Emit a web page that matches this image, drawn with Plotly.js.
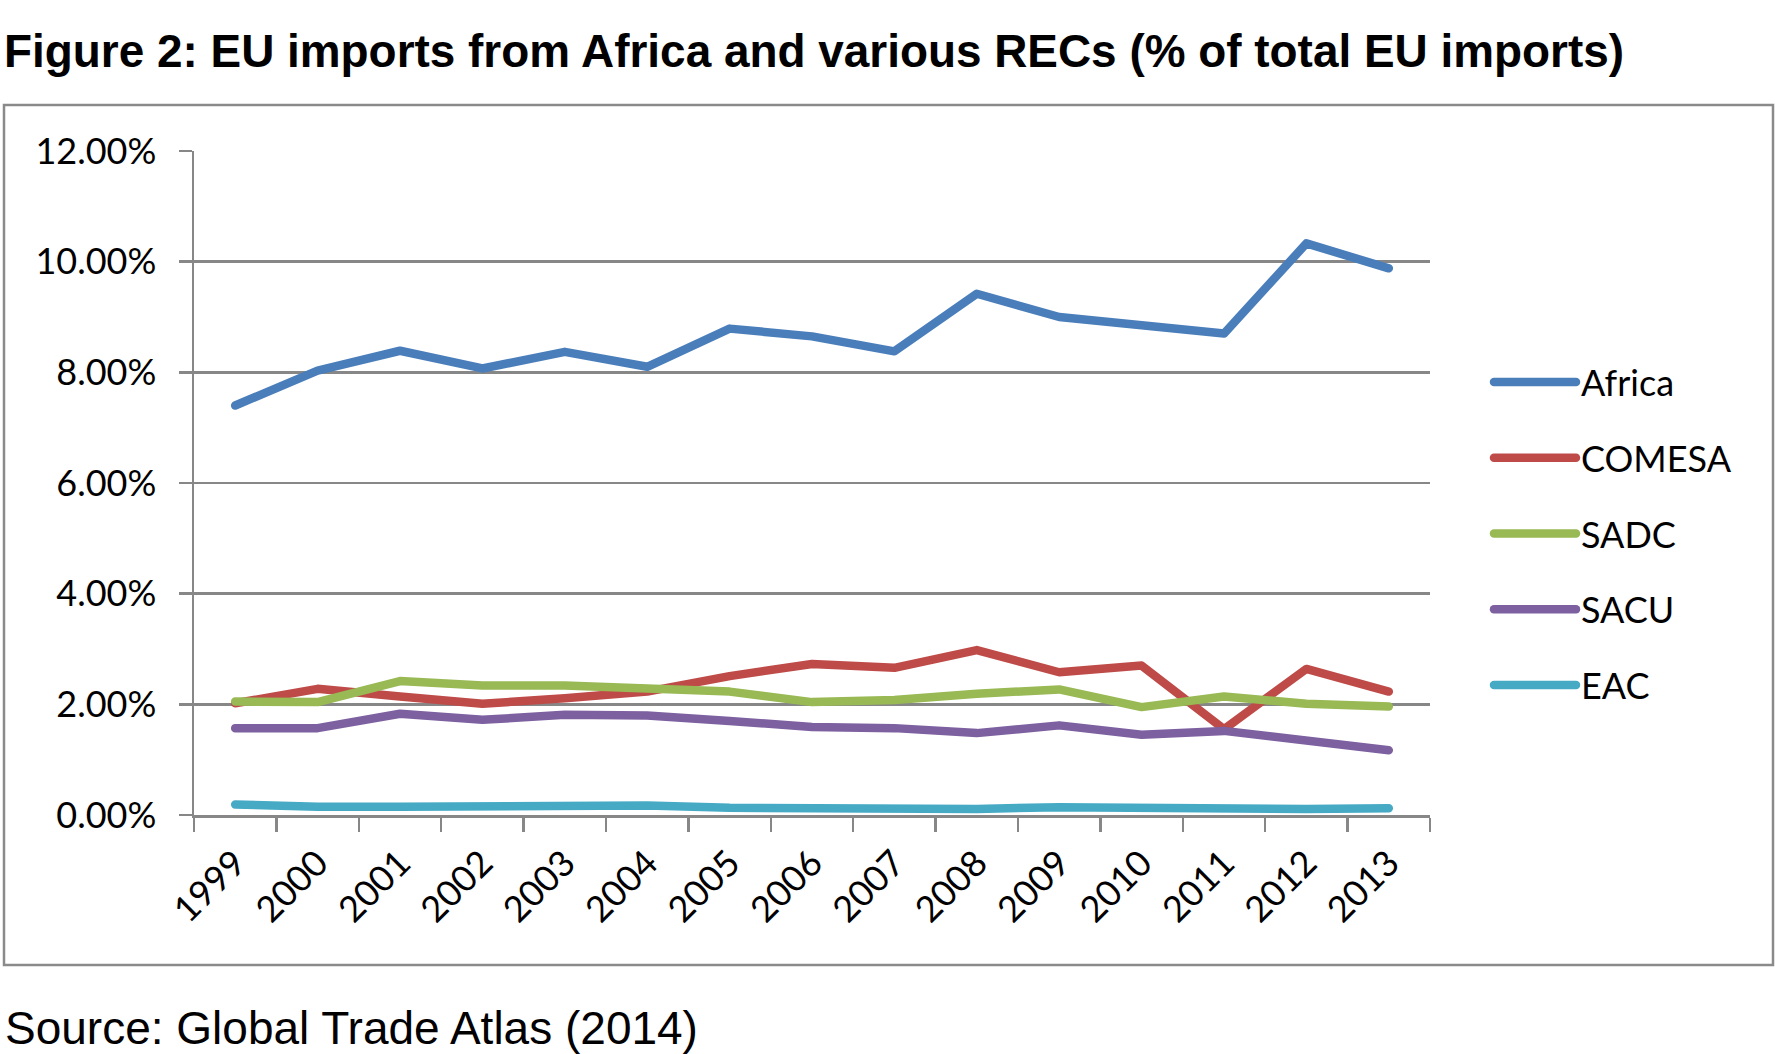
<!DOCTYPE html>
<html>
<head>
<meta charset="utf-8">
<script src="https://cdn.plot.ly/plotly-3.0.1.min.js"></script>
<style>
  html, body { margin: 0; padding: 0; background: #fff; }
  #chart { width: 1775px; height: 1054px; }
  .scatterlayer path.js-line, .legend path.js-line { stroke-linecap: round; stroke-linejoin: round; }
</style>
</head>
<body>
<div id="chart"></div>
<script>
// Categories (years)
const years = ['1999','2000','2001','2002','2003','2004','2005','2006','2007','2008','2009','2010','2011','2012','2013'];
// Series values (% of total EU imports)
const africa = [7.40, 8.03, 8.39, 8.07, 8.37, 8.10, 8.79, 8.65, 8.38, 9.42, 9.00, 8.85, 8.70, 10.33, 9.88];
const comesa = [2.02, 2.28, 2.14, 2.01, 2.11, 2.23, 2.51, 2.73, 2.66, 2.98, 2.58, 2.70, 1.55, 2.64, 2.23];
const sadc   = [2.05, 2.04, 2.42, 2.34, 2.34, 2.27, 2.23, 2.04, 2.08, 2.19, 2.27, 1.95, 2.14, 2.01, 1.96];
const sacu   = [1.57, 1.57, 1.83, 1.72, 1.81, 1.80, 1.70, 1.59, 1.57, 1.48, 1.62, 1.45, 1.52, 1.36, 1.17];
const eac    = [0.19, 0.15, 0.15, 0.16, 0.17, 0.17, 0.13, 0.12, 0.12, 0.11, 0.14, 0.12, 0.12, 0.11, 0.12];
const seriesNames = ['Africa', 'COMESA', 'SADC', 'SACU', 'EAC'];
// Y tick values and labels
const yTickVals = [0, 2, 4, 6, 8, 10, 12];
const yTickText = ['0.00%', '2.00%', '4.00%', '6.00%', '8.00%', '10.00%', '12.00%'];

const seriesData = [africa, comesa, sadc, sacu, eac];
const colors = ['#4A7EBB', '#BE4B48', '#98B954', '#7D60A0', '#46AAC5'];

const traces = seriesData.map((vals, i) => ({
  type: 'scatter',
  mode: 'lines',
  x: years,
  y: vals,
  name: seriesNames[i],
  legendgroup: 'g' + i,
  line: { color: colors[i], width: 8.5 },
  hoverinfo: 'x+y+name'
}));

const W = 1775, H = 1054;
const L = 194, R = 1430, T = 151, B = 815;
const px = v => (v - L) / (R - L);
const py = v => (B - v) / (B - T);

const gridColor = '#878787';
const tickFont = { family: 'Lato, "Noto Sans", sans-serif', size: 36, color: '#000' };

const layout = {
  width: W, height: H,
  autosize: false,
  paper_bgcolor: '#fff',
  plot_bgcolor: '#fff',
  margin: { l: L, r: W - R, t: T, b: H - B, pad: 0 },
  title: {
    text: '<b>Figure 2: EU imports from Africa and various RECs (% of total EU imports)</b>',
    font: { family: '"Liberation Sans", Arial, sans-serif', size: 45.9, color: '#000' },
    xref: 'container', yref: 'container',
    x: 4 / W, xanchor: 'left',
    y: 1 - 51 / H, yanchor: 'middle'
  },
  xaxis: {
    type: 'category',
    range: [-0.5, years.length - 0.5],
    tickson: 'boundaries',
    ticks: 'outside', ticklen: 14, tickwidth: 2.5, tickcolor: gridColor,
    ticklabelstandoff: 10,
    showline: true, linecolor: gridColor, linewidth: 2.5,
    showgrid: false, zeroline: false,
    tickangle: -45,
    tickfont: tickFont,
    fixedrange: true
  },
  yaxis: {
    range: [0, 12],
    tickmode: 'array',
    tickvals: yTickVals,
    ticktext: yTickText,
    ticks: 'outside', ticklen: 13, tickwidth: 2.5, tickcolor: gridColor,
    ticklabelstandoff: 15,
    showline: true, linecolor: gridColor, linewidth: 2.5,
    showgrid: true, gridcolor: gridColor, gridwidth: 2.5,
    zeroline: false,
    tickfont: tickFont,
    fixedrange: true
  },
  showlegend: true,
  legend: {
    x: px(1489), xanchor: 'left',
    y: py(352), yanchor: 'top',
    font: { family: 'Lato, "Noto Sans", sans-serif', size: 36, color: '#000' },
    tracegroupgap: 26,
    itemwidth: 82,
    bgcolor: 'rgba(0,0,0,0)'
  },
  shapes: [{
    type: 'rect', xref: 'paper', yref: 'paper',
    x0: px(4), x1: px(1773), y0: py(965), y1: py(105),
    line: { color: '#8a8a8a', width: 2.5 },
    fillcolor: 'rgba(0,0,0,0)',
    layer: 'below'
  }],
  annotations: [{
    text: 'Source: Global Trade Atlas (2014)',
    xref: 'paper', yref: 'paper',
    x: px(3), xanchor: 'left',
    y: py(1028), yanchor: 'middle',
    showarrow: false,
    font: { family: '"Liberation Sans", Arial, sans-serif', size: 46, color: '#000' }
  }]
};

Plotly.newPlot('chart', traces, layout, { displayModeBar: false, staticPlot: true });
</script>
</body>
</html>
